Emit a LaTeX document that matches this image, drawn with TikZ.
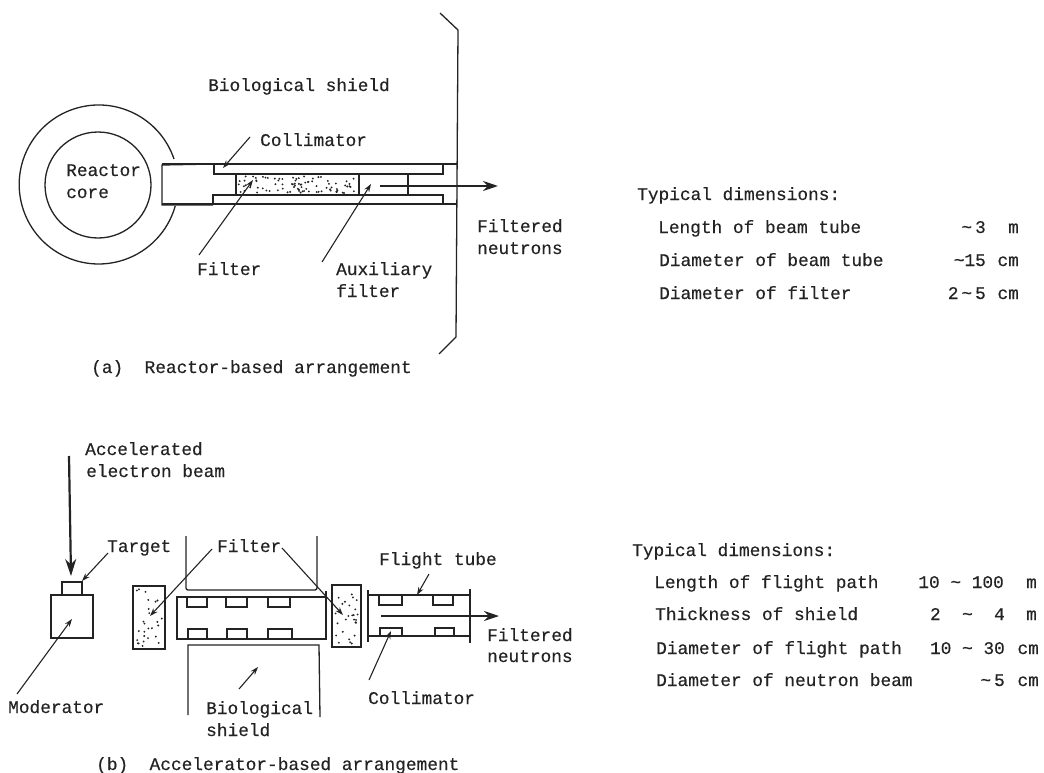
\documentclass[tikz,border=0pt]{standalone}
\usepackage{fontspec}
\setmainfont{Liberation Mono}[FakeBold=0.35]
\usepackage{xcolor}
\usetikzlibrary{arrows.meta}
\definecolor{clrInk}{RGB}{35,35,35}
\tikzset{
  lbl/.style={anchor=base west, inner sep=0pt, font=\fontsize{17.8}{20}\selectfont, text=clrInk},
  val/.style={lbl, anchor=base east},
  wall/.style={line width=1.3pt, color=clrInk},
  part/.style={line width=1.3pt, color=clrInk, line join=miter},
  ldr/.style={-{Stealth[length=8pt,width=5.5pt]}, line width=1.1pt, color=clrInk},
  beam/.style={-{Stealth[length=17pt,width=11pt]}, line width=2.2pt, color=clrInk},
  exitbeam/.style={-{Stealth[length=15pt,width=10pt]}, line width=2.2pt, color=clrInk},
}
\newcommand{\stipple}[5]{%
  \foreach \i in {1,...,#5}
    \fill[clrInk] ({#1+rnd*(#3-#1)},{#2+rnd*(#4-#2)}) circle (1.05);}
\newcommand{\tld}{\textasciitilde}
\begin{document}
\begin{tikzpicture}[x=1pt, y=-1pt]
\useasboundingbox (0,0) rectangle (1044,773);
\pgfmathsetseed{29}
% (a) reactor
\node[circle, draw=clrInk, line width=1.3pt, minimum size=106pt, inner sep=0pt] (core) at (98,185) {};
\draw[wall] (174,159) arc[start angle=-18.7, end angle=-344.2, radius=79.5];
\draw[part] (214,164) -- (162,165) -- (162,205) -- (213,205);
\draw[part] (214,164) -- (214,174) -- (443,174) -- (443,164);
\draw[part] (213,204) -- (213,195) -- (443,195) -- (443,204);
\draw[part] (162,164) -- (457,164);
\draw[part] (162,204) -- (457,204);
\draw[part] (236,174) rectangle (359,195);
\draw[part] (408,174) -- (408,195);
\stipple{238}{176}{357}{193}{85}
\draw[wall] (440,13) -- (458,30) -- (456,337) -- (439,354);
\coordinate (exitA) at (498,186);
\coordinate (startA) at (380,186);
\draw[exitbeam] (startA) -- (exitA);
\node[lbl] (bioA) at (208,91) {Biological shield};
\node[lbl] (colA) at (260,146) {Collimator};
\node[lbl] (coreA) at (66,176) {Reactor};
\node[lbl] (coreB) at (66,198) {core};
\node[lbl] (filA) at (197,275) {Filter};
\node[lbl] (auxA) at (336,275) {Auxiliary};
\node[lbl] (auxB) at (336,297) {filter};
\node[lbl] (outA) at (477,232) {Filtered};
\node[lbl] (outB) at (477,254) {neutrons};
\node[lbl] (capA) at (91,373) {(a)\ \ Reactor-based arrangement};
\coordinate (colT) at (223,168);
\coordinate (filT) at (253,180);
\coordinate (auxT) at (371,184);
\draw[ldr] (250,137) -- (colT);
\draw[ldr] (199,255) -- (filT);
\draw[ldr] (322,262) -- (auxT);
% table a
\node[lbl] (dimA) at (637,200) {Typical dimensions:};
\node[lbl] (lenA) at (658,233) {Length of beam tube};
\node[lbl] (diaA) at (659,266) {Diameter of beam tube};
\node[lbl] (filD) at (659,299) {Diameter of filter};
\node[val] (lenV) at (986,233) {\tld\,3};
\node[val] (diaV) at (986,266) {\tld 15};
\node[val] (filV) at (986,299) {2\,\tld\,5};
\node[val] (lenU) at (1019,233) {m};
\node[val] (diaU) at (1019,266) {cm};
\node[val] (filU) at (1019,299) {cm};
% (b) accelerator
\draw[part] (62,595) rectangle (82,582);
\node[draw=clrInk, line width=1.3pt, minimum width=42pt, minimum height=43pt, inner sep=0pt] (mod) at (72,616.5) {};
\coordinate (beamS) at (69,456);
\coordinate (beamT) at (71,576);
\draw[beam] (beamS) -- (beamT);
\draw[part] (133,586) rectangle (165,649);
\draw[part] (332,585) rectangle (361,647);
\stipple{136}{589}{162}{646}{26}
\stipple{335}{588}{358}{644}{26}
\draw[wall, rounded corners=2pt] (186,536) -- (186,590) -- (317,590) -- (317,536);
\draw[wall] (188,715) -- (188,645) -- (319,645) -- (320,717);
\draw[part] (176,597) -- (325,597);
\draw[part] (177,639) -- (326,639);
\draw[part] (177,596) -- (177,640);
\draw[part] (326,591) -- (326,640);
\foreach \xa/\xb in {187/207,226/247,268/290}
  \draw[part] (\xa,597) -- (\xa,607) -- (\xb,607) -- (\xb,597);
\foreach \xa/\xb in {188/207,227/247,268/292}
  \draw[part] (\xa,639) -- (\xa,629) -- (\xb,629) -- (\xb,639);
% flight tube
\draw[part] (368,590) -- (368,642);
\draw[part] (470,589) -- (470,643);
\draw[part] (368,595) -- (470,595);
\draw[part] (368,636) -- (470,636);
\foreach \xa/\xb in {379/402,433/453}
  \draw[part] (\xa,595) -- (\xa,605) -- (\xb,605) -- (\xb,595);
\foreach \xa/\xb in {380/402,435/454}
  \draw[part] (\xa,636) -- (\xa,628) -- (\xb,628) -- (\xb,636);
\coordinate (startB) at (381,616);
\coordinate (exitB) at (499,616);
\draw[exitbeam] (startB) -- (exitB);
\node[lbl] (accA) at (85,455) {Accelerated};
\node[lbl] (accB) at (86,477) {electron beam};
\node[lbl] (tgt) at (107,552) {Target};
\node[lbl] (filC) at (217,552) {Filter};
\node[lbl] (modL) at (8,713) {Moderator};
\node[lbl] (bioB) at (206,714) {Biological};
\node[lbl] (bioC) at (206,736) {shield};
\node[lbl] (flt) at (379,565) {Flight tube};
\node[lbl] (colB) at (368,704) {Collimator};
\node[lbl] (outC) at (487,641) {Filtered};
\node[lbl] (outD) at (487,662) {neutrons};
\node[lbl] (capB) at (96,770) {(b)\ \ Accelerator-based arrangement};
\coordinate (tgtT) at (82,581);
\coordinate (modT) at (72,619);
\coordinate (filL) at (150,616);
\coordinate (filR) at (343,615);
\coordinate (bioT) at (258,667);
\coordinate (fltT) at (417,595);
\coordinate (colT2) at (391,631);
\draw[ldr] (108,553) -- (tgtT);
\draw[ldr] (17,694) -- (modT);
\draw[ldr] (212,549) -- (filL);
\draw[ldr] (282,548) -- (filR);
\draw[ldr] (239,689) -- (bioT);
\draw[ldr] (429,574) -- (fltT);
\draw[ldr] (369,680) -- (colT2);
% table b
\node[lbl] (dimB) at (632,556) {Typical dimensions:};
\node[lbl] (lenB) at (654,588) {Length of flight path};
\node[lbl] (thkB) at (655,620) {Thickness of shield};
\node[lbl] (diaB) at (656,654) {Diameter of flight path};
\node[lbl] (beaB) at (656,686) {Diameter of neutron beam};
\node[val] (lenW) at (1004,588) {10 \tld\ 100};
\node[val] (thkW) at (1005,620) {2\ \ \tld\ \ 4};
\node[val] (diaW) at (1005,654) {10 \tld\ 30};
\node[val] (beaW) at (1005,686) {\tld\,5};
\node[val] (lenX) at (1037,588) {m};
\node[val] (thkX) at (1037,620) {m};
\node[val] (diaX) at (1039,654) {cm};
\node[val] (beaX) at (1039,686) {cm};
\end{tikzpicture}
\end{document}
